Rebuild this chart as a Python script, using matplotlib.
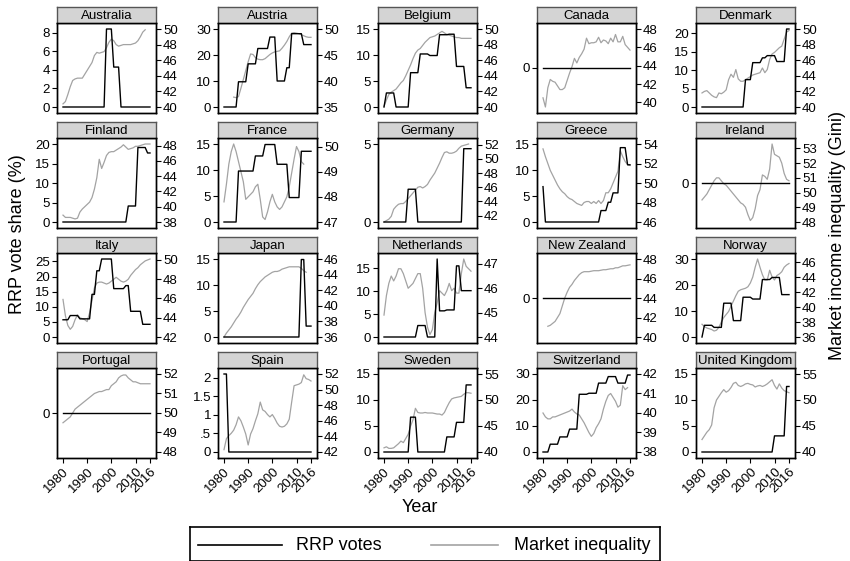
import numpy as np
import matplotlib
matplotlib.use("Agg")
import matplotlib.pyplot as plt

plt.rcParams['font.family'] = ['Liberation Sans', 'DejaVu Sans']

years = list(range(1980, 2017))
N = None

countries = ["Australia", "Austria", "Belgium", "Canada", "Denmark",
             "Finland", "France", "Germany", "Greece", "Ireland",
             "Italy", "Japan", "Netherlands", "New Zealand", "Norway",
             "Portugal", "Spain", "Sweden", "Switzerland", "United Kingdom"]

# ---- RRP vote share (%) 1980-2016 ----
aus_rrp = [0,0,0,0,0,0,0,0,0,0, 0,0,0,0,0,0,0,0,8.4,8.4, 8.4,4.3,4.3,4.3,0,0,0,0,0,0, 0,0,0,0,0,0,0]
aut_rrp = [0,0,0,0,0,0,9.7,9.7,9.7,9.7, 16.6,16.6,16.6,16.6,22.5,22.5,22.5,22.5,22.5,26.9, 26.9,26.9,10.0,10.0,10.0,10.0,15.1,15.1,28.2,28.2, 28.2,28.2,28.2,24.0,24.0,24.0,24.0]
bel_rrp = [0,2.7,2.7,2.7,2.7,0,0,0,0,0, 0,6.6,6.6,6.6,6.6,10.2,10.2,10.2,10.2,9.9, 9.9,9.9,9.9,13.9,13.9,13.9,13.9,14.0,14.0,14.0, 7.8,7.8,7.8,7.8,3.7,3.7,3.7]
can_rrp = [0,0,0,0,0,0,0,0,0,0, 0,0,0,0,0,0,0,0,0,0, 0,0,0,0,0,0,0,0,0,0, 0,0,0,0,0,0,0]
dnk_rrp = [0,0,0,0,0,0,0,0,0,0, 0,0,0,0,0,0,0,0,7.4,7.4, 7.4,12.0,12.0,12.0,12.0,13.3,13.3,13.9,13.9,13.9, 13.9,12.3,12.3,12.3,12.3,21.1,21.1]
fin_rrp = [0,0,0,0,0,0,0,0,0,0, 0,0,0,0,0,0,0,0,0,0, 0,0,0,0,0,0,0,4.1,4.1,4.1, 4.1,19.1,19.1,19.1,19.1,17.7,17.7]
fra_rrp = [0,0,0,0,0,0,9.8,9.8,9.8,9.8, 9.8,9.8,9.8,12.7,12.7,12.7,12.7,14.9,14.9,14.9, 14.9,14.9,11.1,11.1,11.1,11.1,11.1,4.7,4.7,4.7, 4.7,4.7,13.6,13.6,13.6,13.6,13.6]
deu_rrp = [0,0,0,0,0,0,0,0,0,0, 2.1,2.1,2.1,2.1,0,0,0,0,0,0, 0,0,0,0,0,0,0,0,0,0, 0,0,0,4.7,4.7,4.7,4.7]
grc_rrp = [6.8,0,0,0,0,0,0,0,0,0, 0,0,0,0,0,0,0,0,0,0, 0,0,0,0,2.2,2.2,2.2,3.8,3.8,5.6, 5.6,5.6,14.3,14.3,14.3,11.0,11.0]
irl_rrp = [0,0,0,0,0,0,0,0,0,0, 0,0,0,0,0,0,0,0,0,0, 0,0,0,0,0,0,0,0,0,0, 0,0,0,0,0,0,0]
ita_rrp = [5.7,5.7,5.7,7.1,7.1,7.1,7.1,6.0,6.0,6.0, 6.0,6.0,14.1,14.1,21.9,21.9,25.8,25.8,25.8,25.8, 25.8,16.0,16.0,16.0,16.0,16.0,17.0,17.0,8.5,8.5, 8.5,8.5,8.5,4.2,4.2,4.2,4.2]
jpn_rrp = [0,0,0,0,0,0,0,0,0,0, 0,0,0,0,0,0,0,0,0,0, 0,0,0,0,0,0,0,0,0,0, 0,0,14.9,14.9,2.1,2.1,2.1]
nld_rrp = [0,0,0,0,0,0,0,0,0,0, 0,0,0,0,2.5,2.5,2.5,2.5,0,0, 0,0,17.0,5.7,5.7,5.7,5.9,5.9,5.9,5.9, 15.5,15.5,10.1,10.1,10.1,10.1,10.1]
nzl_rrp = [0,0,0,0,0,0,0,0,0,0, 0,0,0,0,0,0,0,0,0,0, 0,0,0,0,0,0,0,0,0,0, 0,0,0,0,0,0,0]
nor_rrp = [0,4.5,4.5,4.5,4.5,3.7,3.7,3.7,3.7,13.0, 13.0,13.0,13.0,6.3,6.3,6.3,6.3,15.3,15.3,15.3, 15.3,14.6,14.6,14.6,14.6,22.1,22.1,22.1,22.1,22.9, 22.9,22.9,22.9,16.3,16.3,16.3,16.3]
prt_rrp = [0,0,0,0,0,0,0,0,0,0, 0,0,0,0,0,0,0,0,0,0, 0,0,0,0,0,0,0,0,0,0, 0,0,0,0,0,0,0]
esp_rrp = [2.1,2.1,0,0,0,0,0,0,0,0, 0,0,0,0,0,0,0,0,0,0, 0,0,0,0,0,0,0,0,0,0, 0,0,0,0,0,0,0]
swe_rrp = [0,0,0,0,0,0,0,0,0,0, 0,6.7,6.7,6.7,0,0,0,0,0,0, 0,0,0,0,0,0,2.9,2.9,2.9,2.9, 5.7,5.7,5.7,5.7,12.9,12.9,12.9]
che_rrp = [0,0,0,3.0,3.0,3.0,3.0,5.8,5.8,5.8, 5.8,8.8,8.8,8.8,8.8,22.2,22.2,22.2,22.2,22.6, 22.6,22.6,22.6,26.5,26.5,26.5,26.5,29.0,29.0,29.0, 29.0,26.5,26.5,26.5,26.5,29.6,29.6]
gbr_rrp = [0,0,0,0,0,0,0,0,0,0, 0,0,0,0,0,0,0,0,0,0, 0,0,0,0,0,0,0,0,0,0, 3.1,3.1,3.1,3.1,3.1,12.6,12.6]

# ---- Market income inequality (Gini) 1980-2016 ----
aus_gini = [40.4,40.7,41.6,42.6,43.4,43.6,43.7,43.7,43.7,44.2, 44.7,45.2,45.7,46.6,47.0,46.9,47.0,47.1,47.6,48.3, 48.7,48.5,48.0,47.8,47.9,48.0,48.0,48.0,48.0,48.1, 48.2,48.5,49.0,49.6,49.9,N,N]
aut_gini = [N,N,N,N,36.9,36.8,37.0,38.6,40.3,42.0, 43.7,45.2,45.1,44.5,44.2,44.1,44.1,44.3,44.7,45.1, 45.4,45.6,45.7,45.8,46.3,46.9,47.6,48.5,49.2,49.3, 49.2,49.1,48.9,48.7,48.5,48.4,48.4]
bel_gini = [40.1,40.9,41.6,41.9,42.1,42.3,42.7,43.1,43.4,44.0, 44.7,45.4,46.2,46.9,47.3,47.5,47.9,48.3,48.6,48.9, 49.0,49.1,49.3,49.5,49.7,49.5,49.3,49.2,49.1,49.0, 48.9,48.9,48.8,48.8,48.8,48.8,48.8]
can_gini = [40.5,39.5,41.6,42.5,42.3,42.2,41.8,41.4,41.4,41.6, 42.4,43.2,43.9,44.8,44.3,44.9,45.3,45.8,47.0,46.4, 46.5,46.5,46.6,47.1,46.5,46.8,46.7,46.4,47.0,46.6, 47.4,46.6,46.6,47.2,46.3,46.0,45.7]
dnk_gini = [41.8,42.0,42.1,41.8,41.5,41.3,41.2,41.8,41.7,41.9, 42.2,43.5,44.2,43.8,44.8,43.6,43.3,43.3,43.5,43.7, 43.9,44.1,44.2,44.3,44.4,45.0,44.4,44.8,46.1,46.8, 47.0,47.3,47.6,47.8,48.7,49.6,49.8]
fin_gini = [38.9,38.6,38.6,38.6,38.5,38.4,38.5,39.3,39.7,40.0, 40.3,40.6,41.2,42.3,43.8,46.2,45.0,45.8,46.7,47.1, 47.2,47.2,47.4,47.6,47.8,48.1,47.8,47.5,47.6,47.7, 47.9,47.9,48.0,48.1,48.2,48.2,48.2]
fra_gini = [47.8,48.5,49.3,49.8,50.1,49.8,49.4,49.0,48.6,47.9, 48.0,48.1,48.2,48.4,48.5,47.9,47.2,47.1,47.4,47.8, 48.1,47.8,47.6,47.5,47.6,47.8,48.0,48.4,48.95,49.5, 50.0,49.8,49.4,49.3,N,N,N]
deu_gini = [41.1,41.3,41.5,41.9,42.9,43.3,43.6,43.7,43.7,44.0, 44.4,44.8,45.2,45.6,46.0,46.1,45.9,46.1,46.4,47.0, 47.5,48.0,48.7,49.4,50.2,50.9,51.0,50.8,50.8,50.9, 51.1,51.5,51.8,51.9,52.0,52.1,N]
grc_gini = [53.5,52.7,52.0,51.3,50.8,50.3,49.8,49.4,49.1,48.9, 48.6,48.4,48.3,48.1,47.9,47.8,47.7,48.0,48.1,48.1, 47.9,48.1,47.9,48.2,47.9,48.2,49.0,49.0,49.4,50.0, 50.6,51.2,53.3,52.7,52.2,51.9,51.8]
irl_gini = [49.5,49.7,49.9,50.2,50.5,50.8,51.0,51.0,50.8,50.6, 50.5,50.3,50.1,49.9,49.7,49.5,49.3,49.2,49.0,48.5, 48.1,48.3,48.9,49.8,50.2,51.2,51.1,50.9,51.6,53.3, 52.6,52.5,52.4,52.0,51.3,50.9,50.8]
ita_gini = [45.9,44.2,43.2,42.8,43.1,43.8,44.3,44.0,43.9,43.8, 43.6,44.5,45.8,47.1,47.6,47.7,47.7,47.6,47.5,47.6, 47.8,48.0,48.2,48.0,47.8,47.7,47.8,48.0,48.4,48.7, 49.0,49.2,49.5,49.7,49.9,50.0,50.1]
jpn_gini = [36.0,36.5,36.9,37.3,37.8,38.3,38.7,39.2,39.8,40.3, 40.8,41.2,41.6,42.2,42.7,43.1,43.4,43.7,43.9,44.1, 44.3,44.4,44.4,44.5,44.7,44.8,44.9,45.0,45.0,45.0, 45.0,45.0,44.8,44.5,44.3,N,N]
nld_gini = [44.9,45.7,46.2,46.5,46.3,46.5,46.8,46.8,46.6,46.3, 46.0,46.1,46.2,46.4,46.6,46.6,46.0,45.0,44.4,44.1, 44.3,45.0,45.4,45.9,45.8,45.7,45.9,46.2,45.9,46.0, 45.8,45.8,46.6,47.2,46.9,46.8,46.7]
nzl_gini = [N,N,41.1,41.2,41.4,41.6,42.0,42.4,43.2,44.0, 44.6,45.1,45.4,45.8,46.1,46.4,46.6,46.7,46.7,46.7, 46.75,46.8,46.8,46.8,46.85,46.9,46.9,46.95,47.0,47.0, 47.1,47.1,47.2,47.3,47.3,47.35,47.4]
nor_gini = [37.7,37.4,37.2,37.1,37.0,36.8,36.9,37.3,38.0,38.6, 39.0,39.4,40.1,40.8,41.5,42.1,42.3,42.4,42.5,42.7, 43.2,44.0,45.3,46.4,45.3,44.3,43.6,43.6,44.9,44.0, 43.6,44.2,44.4,44.7,45.3,45.6,45.8]
prt_gini = [49.5,49.6,49.7,49.8,50.0,50.2,50.3,50.4,50.5,50.6, 50.7,50.8,50.9,51.0,51.05,51.1,51.1,51.15,51.2,51.2, 51.4,51.5,51.6,51.8,51.9,51.95,51.95,51.8,51.7,51.6, 51.6,51.55,51.5,51.5,51.5,51.5,51.5]
esp_gini = [42.3,43.7,44.1,44.4,44.8,45.5,46.5,46.0,45.2,44.3, 42.9,44.3,45.0,46.0,46.9,48.4,47.4,47.2,46.8,46.5, 46.8,46.3,45.7,45.3,45.2,45.3,45.6,46.2,48.4,50.5, 50.6,50.7,50.9,51.9,51.4,51.3,51.1]
swe_gini = [40.8,41.0,40.7,40.7,40.8,41.2,41.6,42.1,41.8,42.6, 43.4,45.0,46.2,48.4,47.6,47.5,47.5,47.6,47.5,47.5, 47.5,47.4,47.3,47.3,47.1,47.6,48.6,49.5,50.2,50.4, 50.5,50.6,50.7,51.1,51.4,51.4,51.3]
che_gini = [40.0,39.8,39.7,39.7,39.8,39.8,39.85,39.9,39.95,40.0, 40.05,40.1,40.2,40.05,39.95,39.9,39.7,39.5,39.25,39.0, 38.8,38.95,39.25,39.45,39.7,40.2,40.6,40.9,41.0,40.8, 40.6,40.3,40.4,41.4,41.2,41.3,N]
gbr_gini = [42.4,43.1,43.8,44.3,45.2,48.5,50.0,50.7,51.4,52.0, 51.5,51.8,52.4,53.2,53.4,52.8,52.6,52.8,53.1,53.2, 53.0,52.9,52.5,52.7,52.8,52.6,52.8,53.1,53.5,53.9, 52.8,52.1,53.1,52.3,51.8,51.6,51.4]

rrp_series = [aus_rrp, aut_rrp, bel_rrp, can_rrp, dnk_rrp, fin_rrp, fra_rrp, deu_rrp,
              grc_rrp, irl_rrp, ita_rrp, jpn_rrp, nld_rrp, nzl_rrp, nor_rrp, prt_rrp,
              esp_rrp, swe_rrp, che_rrp, gbr_rrp]
gini_series = [aus_gini, aut_gini, bel_gini, can_gini, dnk_gini, fin_gini, fra_gini, deu_gini,
               grc_gini, irl_gini, ita_gini, jpn_gini, nld_gini, nzl_gini, nor_gini, prt_gini,
               esp_gini, swe_gini, che_gini, gbr_gini]

# axis tick values
left_ticks = [[0,2,4,6,8],[0,10,20,30],[0,5,10,15],[0],[0,5,10,15,20],
              [0,5,10,15,20],[0,5,10,15],[0,5],[0,5,10,15],[0],
              [0,5,10,15,20,25],[0,5,10,15],[0,5,10,15],[0],[0,10,20,30],
              [0],[0,0.5,1,1.5,2],[0,5,10,15],[0,10,20,30],[0,5,10,15]]
right_ticks = [[40,42,44,46,48,50],[35,40,45,50],[40,42,44,46,48,50],[40,42,44,46,48],[40,42,44,46,48,50],
               [38,40,42,44,46,48],[47,48,49,50],[42,44,46,48,50,52],[46,48,50,52,54],[48,49,50,51,52,53],
               [42,44,46,48,50],[36,38,40,42,44,46],[44,45,46,47],[40,42,44,46,48],[36,38,40,42,44,46],
               [48,49,50,51,52],[42,44,46,48,50,52],[40,45,50,55],[38,39,40,41,42],[40,45,50,55]]
x_ticks = [1980, 1990, 2000, 2010, 2016]
legend_labels = ['RRP votes', 'Market inequality']

W, H = 850, 561
fig = plt.figure(figsize=(W/100, H/100), dpi=100)

col_left = [57, 218, 378, 537, 696]
row_top = [23, 138, 253, 368]
bw, bh = 99, 90
strip_h = 16
MARG = 6.0 / 78.0

GRAY = '#a3a3a3'


def padded(vals, ticks):
    arr = np.array([np.nan if v is None else v for v in vals], dtype=float)
    lo = min(np.nanmin(arr), min(ticks))
    hi = max(np.nanmax(arr), max(ticks))
    if hi - lo < 1e-9:
        return (lo - 1, hi + 1)
    m = (hi - lo) * MARG
    return (lo - m, hi + m)


def fmt(v):
    if float(v).is_integer():
        return str(int(v))
    s = ('%g' % v)
    if s.startswith('0.'):
        s = s[1:]
    return s


for i, name in enumerate(countries):
    r, c = divmod(i, 5)
    l, t = col_left[c], row_top[r]
    ax = fig.add_axes([l / W, 1 - (t + bh) / H, bw / W, bh / H])
    ax2 = ax.twinx()
    yv = np.array([np.nan if v is None else v for v in rrp_series[i]], dtype=float)
    gv = np.array([np.nan if v is None else v for v in gini_series[i]], dtype=float)
    ax.plot(years, yv, color='black', lw=1.0, zorder=3)
    ax2.plot(years, gv, color=GRAY, lw=0.9, zorder=2)
    ax.set_zorder(ax2.get_zorder() + 1)
    ax.patch.set_visible(False)

    ax.set_xlim(1980 - 36 * 6 / 87, 2016 + 36 * 6 / 87)
    ax.set_ylim(padded(rrp_series[i], left_ticks[i]))
    ax2.set_ylim(padded(gini_series[i], right_ticks[i]))
    ax.set_yticks(left_ticks[i])
    ax.set_yticklabels([fmt(v) for v in left_ticks[i]])
    ax2.set_yticks(right_ticks[i])
    ax2.set_yticklabels([fmt(v) for v in right_ticks[i]])

    for a in (ax, ax2):
        for s in a.spines.values():
            s.set_linewidth(1.0)
            s.set_color('black')
        a.tick_params(axis='y', direction='out', length=3.5, width=0.8,
                      labelsize=9.5, pad=1.5, colors='black')
    if r == 3:
        ax.set_xticks(x_ticks)
        ax.set_xticklabels([str(x) for x in x_ticks], rotation=45,
                           ha='right', va='top', rotation_mode='anchor')
        ax.tick_params(axis='x', direction='out', length=3.5, width=0.8,
                       labelsize=9.5, pad=2)
    else:
        ax.set_xticks([])

    # strip with country name
    sax = fig.add_axes([l / W, 1 - t / H, bw / W, strip_h / H])
    sax.set_facecolor('#d4d4d4')
    sax.set_xticks([])
    sax.set_yticks([])
    for s in sax.spines.values():
        s.set_color('#555555')
        s.set_linewidth(1.0)
    sax.text(0.5, 0.45, name, ha='center', va='center', fontsize=9.5,
             transform=sax.transAxes)

fig.text(18 / W, 1 - 234 / H, 'RRP vote share (%)', rotation=90,
         ha='center', va='center', fontsize=13)
fig.text(838 / W, 1 - 236 / H, 'Market income inequality (Gini)', rotation=90,
         ha='center', va='center', fontsize=13)
fig.text(420 / W, 1 - 508 / H, 'Year', ha='center', va='center', fontsize=13)

# legend box drawn in pixel units
lx0, ly_top, lw_, lh_ = 190, 527, 470, 34
lax = fig.add_axes([lx0 / W, 1 - (ly_top + lh_) / H, lw_ / W, lh_ / H])
lax.set_xlim(0, lw_)
lax.set_ylim(lh_, 0)
lax.set_xticks([])
lax.set_yticks([])
for s in lax.spines.values():
    s.set_color('black')
    s.set_linewidth(1.2)
ymid = 545 - ly_top
lax.plot([8, 92], [ymid, ymid], color='black', lw=1.2)
lax.text(106, ymid, legend_labels[0], ha='left', va='center', fontsize=13)
lax.plot([241, 308], [ymid, ymid], color=GRAY, lw=1.2)
lax.text(324, ymid, legend_labels[1], ha='left', va='center', fontsize=13)

fig.savefig('out.png', dpi=100)
